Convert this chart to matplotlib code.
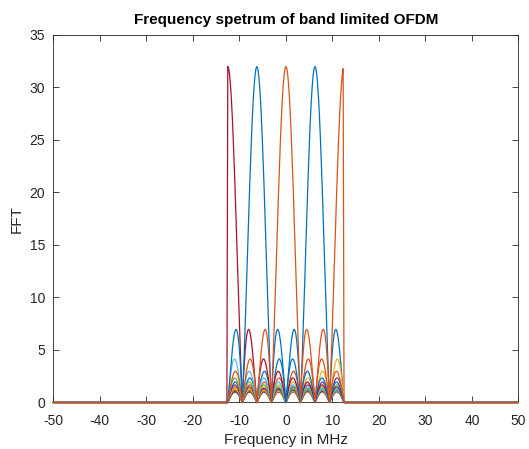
import numpy as np
import matplotlib
matplotlib.use("Agg")
import matplotlib.pyplot as plt

# ================================
# Data: one tone per subcarrier, 32 samples at 100 MHz
# ================================
fs_mhz = 100.0
n_samples = 32
n_sub = 16                      # tone k sits at k * fs / n_sub
subcarrier_k = [1, 2, 3, 4, 5, 6, 7, 8, 9, 10, 11, 12, 13, 14, 15, 16]
nfft = 512
band_low, band_high = -12.5, 12.5   # kept band in MHz

x_ticks = [-50, -40, -30, -20, -10, 0, 10, 20, 30, 40, 50]
y_ticks = [0, 5, 10, 15, 20, 25, 30, 35]

# MATLAB default line colours
colors = ["#0072BD", "#D95319", "#EDB120", "#7E2F8E",
          "#77AC30", "#4DBEEE", "#A2142F"]

freq = (np.arange(nfft) - nfft // 2) * fs_mhz / nfft
keep = (freq >= band_low) & (freq < band_high)
n = np.arange(n_samples)

# ================================
# Plot
# ================================
plt.rcParams['font.family'] = ['Liberation Sans', 'DejaVu Sans']
plt.rcParams['axes.unicode_minus'] = False
fig = plt.figure(figsize=(5.29, 4.49), dpi=100)
ax = fig.add_axes([0.101, 0.1036, 0.879, 0.8185])

for i, k in enumerate(subcarrier_k):
    tone = np.exp(2j * np.pi * k * n / n_sub)
    spec = np.abs(np.fft.fftshift(np.fft.fft(tone, nfft)))
    spec[~keep] = 0
    # lines sit over the bottom spine, like in the MATLAB figure
    ax.plot(freq, spec, color=colors[i % len(colors)], linewidth=0.9,
            zorder=3, clip_on=False)

axis_col = "#262626"
ax.set_xlim(-50, 50)
ax.set_ylim(0, 35)
ax.set_xticks(x_ticks)
ax.set_yticks(y_ticks)
ax.tick_params(direction="in", length=4, width=0.6, top=True, right=True,
               labelsize=10, colors=axis_col)
ax.tick_params(axis="x", pad=8)
ax.tick_params(axis="y", pad=6)
for s in ax.spines.values():
    s.set_color(axis_col)
    s.set_linewidth(0.6)

ax.set_title("Frequency spetrum of band limited OFDM", fontsize=11,
             fontweight="bold", color="black", pad=8)
ax.set_xlabel("Frequency in MHz", fontsize=11, color=axis_col, labelpad=4)
ax.set_ylabel("FFT", fontsize=11, color=axis_col, labelpad=4)

fig.savefig("out.png", dpi=100)
